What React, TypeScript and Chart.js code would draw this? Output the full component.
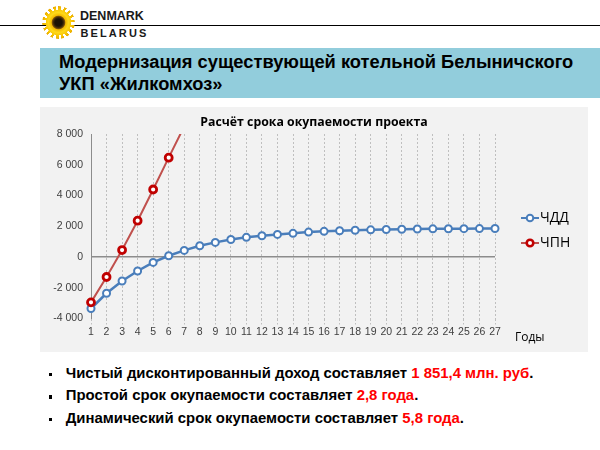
import { useEffect, useRef } from 'react';
import { Chart, registerables } from 'chart.js';

Chart.register(...registerables);

const years = ['1', '2', '3', '4', '5', '6', '7', '8', '9', '10', '11', '12', '13', '14', '15', '16', '17', '18', '19', '20', '21', '22', '23', '24', '25', '26', '27'];
const chddValues = [-3350, -2360, -1560, -910, -350, 80, 430, 730, 950, 1140, 1280, 1385, 1470, 1540, 1620, 1670, 1710, 1740, 1765, 1790, 1805, 1820, 1830, 1838, 1843, 1847, 1851.4];
const chpnValues = [-2950, -1300, 450, 2360, 4390, 6460, 8500];
const seriesNames = ['ЧДД', 'ЧПН'];
const chartTitle = 'Расчёт срока окупаемости проекта';
const axisTitle = 'Годы';
const slideTitle = ['Модернизация существующей котельной Белыничского', 'УКП «Жилкомхоз»'];
const bullets = [
  ['Чистый дисконтированный доход составляет ', '1 851,4 млн. руб', '.'],
  ['Простой срок окупаемости составляет ', '2,8 года', '.'],
  ['Динамический срок окупаемости составляет ', '5,8 года', '.'],
];

const BLUE = '#4A7EBB';
const RED_LINE = '#C0504D';
const RED_MARK = '#C00000';

function fmt(v: number) {
  return String(v).replace(/\B(?=(\d{3})+(?!\d))/g, ' ');
}

function LegendMark({ color, lineColor, bw }: { color: string; lineColor: string; bw: number }) {
  return (
    <svg width="20" height="10" style={{ display: 'block' }}>
      <line x1="1" y1="5" x2="19" y2="5" stroke={lineColor} strokeWidth="2" />
      <circle cx="10" cy="5" r="3.3" fill="#fff" stroke={color} strokeWidth={bw} />
    </svg>
  );
}

export default function App() {
  const canvasRef = useRef<HTMLCanvasElement | null>(null);

  useEffect(() => {
    if (!canvasRef.current) return;
    const clip = { left: 8, right: 8, top: 0, bottom: 8 };
    const chart = new Chart(canvasRef.current, {
      type: 'line',
      data: {
        labels: years,
        datasets: [
          {
            label: seriesNames[0],
            data: chddValues,
            borderColor: BLUE,
            borderWidth: 2.5,
            pointRadius: 3.5,
            pointBorderWidth: 2,
            pointBackgroundColor: '#fff',
            pointBorderColor: BLUE,
            tension: 0,
            order: 2,
            clip,
          },
          {
            label: seriesNames[1],
            data: chpnValues,
            borderColor: RED_LINE,
            borderWidth: 2,
            pointRadius: 3.5,
            pointBorderWidth: 2.8,
            pointBackgroundColor: '#fff',
            pointBorderColor: RED_MARK,
            tension: 0,
            order: 1,
            clip,
          },
        ],
      },
      options: {
        responsive: true,
        maintainAspectRatio: false,
        animation: false,
        layout: { padding: 0 },
        plugins: {
          legend: { display: false },
          tooltip: { enabled: false },
          title: {
            display: true,
            text: chartTitle,
            color: '#000',
            font: { family: '"Open Sans", "Noto Sans", sans-serif', size: 12.3, weight: 'bold', lineHeight: 1.2 },
            padding: { top: 8.4, bottom: 3.84 },
          },
        },
        scales: {
          x: {
            type: 'category',
            offset: false,
            grid: {
              color: '#BFBFBF',
              lineWidth: 1,
              drawTicks: true,
              tickLength: 6,
              tickColor: '#BFBFBF',
              tickBorderDash: [2, 2],
            },
            border: { display: false, dash: [2, 2] },
            ticks: {
              color: '#404040',
              font: { family: '"Liberation Sans", Arial, sans-serif', size: 10.5 },
              padding: 1,
              autoSkip: false,
              maxRotation: 0,
            },
            afterFit: (s: any) => {
              s.height = 33.5;
            },
          },
          y: {
            min: -4000,
            max: 8000,
            ticks: {
              stepSize: 2000,
              color: '#404040',
              font: { family: '"Liberation Sans", Arial, sans-serif', size: 10.5 },
              padding: 8,
              callback: (v: any) => fmt(Number(v)),
            },
            grid: {
              drawTicks: false,
              color: (ctx: any) => (ctx.tick && ctx.tick.value === 0 ? '#8C8C8C' : 'rgba(0,0,0,0)'),
              lineWidth: (ctx: any) => (ctx.tick && ctx.tick.value === 0 ? 1.5 : 0),
            },
            border: { display: true, color: '#8C8C8C', width: 1 },
            afterFit: (s: any) => {
              s.width = 51;
            },
          },
          legendSpace: {
            type: 'linear',
            position: 'right',
            display: true,
            grid: { display: false, drawTicks: false },
            border: { display: false },
            ticks: { display: false },
            afterFit: (s: any) => {
              s.width = 93;
            },
          },
        },
      },
    } as any);
    return () => chart.destroy();
  }, []);

  const sans = '"Liberation Sans", Arial, sans-serif';
  const open = '"Open Sans", "Noto Sans", sans-serif';

  return (
    <div style={{ position: 'absolute', left: 0, top: 0, width: 600, height: 450, background: '#fff', overflow: 'hidden', fontFamily: sans }}>
      {/* header line */}
      <div style={{ position: 'absolute', left: 0, top: 24.5, width: 600, height: 1.5, background: '#000' }} />
      {/* sunflower */}
      <div
        style={{
          position: 'absolute',
          left: 42,
          top: 6,
          width: 33,
          height: 33,
          borderRadius: '50%',
          background:
            'radial-gradient(circle, #1a1005 0 3.5px, #3d2707 5px, #7a4f0b 6.3px, #f3b900 7.2px, #ffd91a 10px, #f5c000 14px, #e9a900 16.5px)',
          WebkitMaskImage:
            'radial-gradient(circle, #000 0 12.5px, transparent 13px), repeating-conic-gradient(#000 0 10deg, transparent 10deg 20deg)',
          maskImage:
            'radial-gradient(circle, #000 0 12.5px, transparent 13px), repeating-conic-gradient(#000 0 10deg, transparent 10deg 20deg)',
        }}
      />
      <div style={{ position: 'absolute', left: 80, top: 9, fontSize: 12.5, fontWeight: 'bold', lineHeight: '15px', color: '#1a1a1a', whiteSpace: 'nowrap' }}>DENMARK</div>
      <div style={{ position: 'absolute', left: 80.5, top: 26, fontSize: 11, fontWeight: 'bold', letterSpacing: 2.1, lineHeight: '14px', color: '#1a1a1a', whiteSpace: 'nowrap' }}>BELARUS</div>

      {/* title box */}
      <div style={{ position: 'absolute', left: 40, top: 48, width: 560, height: 50, background: '#92CDDC' }} />
      <div style={{ position: 'absolute', left: 59, top: 51, fontSize: 18.3, fontWeight: 'bold', lineHeight: '22px', color: '#000', whiteSpace: 'nowrap' }}>
        <div>{slideTitle[0]}</div>
        <div>{slideTitle[1]}</div>
      </div>

      {/* chart panel */}
      <div style={{ position: 'absolute', left: 40, top: 107, width: 548, height: 245, background: '#F2F2F2' }}>
        <canvas ref={canvasRef} />
      </div>

      {/* legend */}
      <div style={{ position: 'absolute', left: 520, top: 212.5 }}>
        <LegendMark color={BLUE} lineColor={BLUE} bw={2} />
      </div>
      <div style={{ position: 'absolute', left: 540, top: 209, fontFamily: open, fontSize: 14, lineHeight: '16px', color: '#000' }}>{seriesNames[0]}</div>
      <div style={{ position: 'absolute', left: 520, top: 237.5 }}>
        <LegendMark color={RED_MARK} lineColor={RED_LINE} bw={2.6} />
      </div>
      <div style={{ position: 'absolute', left: 540, top: 234, fontFamily: open, fontSize: 14, lineHeight: '16px', color: '#000' }}>{seriesNames[1]}</div>

      {/* axis title */}
      <div style={{ position: 'absolute', left: 515, top: 330, fontFamily: open, fontSize: 12, lineHeight: '14px', color: '#000' }}>{axisTitle}</div>

      {/* bullets */}
      <div style={{ position: 'absolute', left: 65.7, top: 361.9, fontSize: 14.9, fontWeight: 'bold', lineHeight: '22.5px', color: '#000', whiteSpace: 'nowrap' }}>
        {bullets.map((b, i) => (
          <div key={i} style={{ position: 'relative', height: 22.5 }}>
            <span style={{ position: 'absolute', left: -17.2, top: 11.1, width: 3.5, height: 3.5, background: '#000' }} />
            {b[0]}
            <span style={{ color: '#FF0000' }}>{b[1]}</span>
            {b[2]}
          </div>
        ))}
      </div>
    </div>
  );
}
